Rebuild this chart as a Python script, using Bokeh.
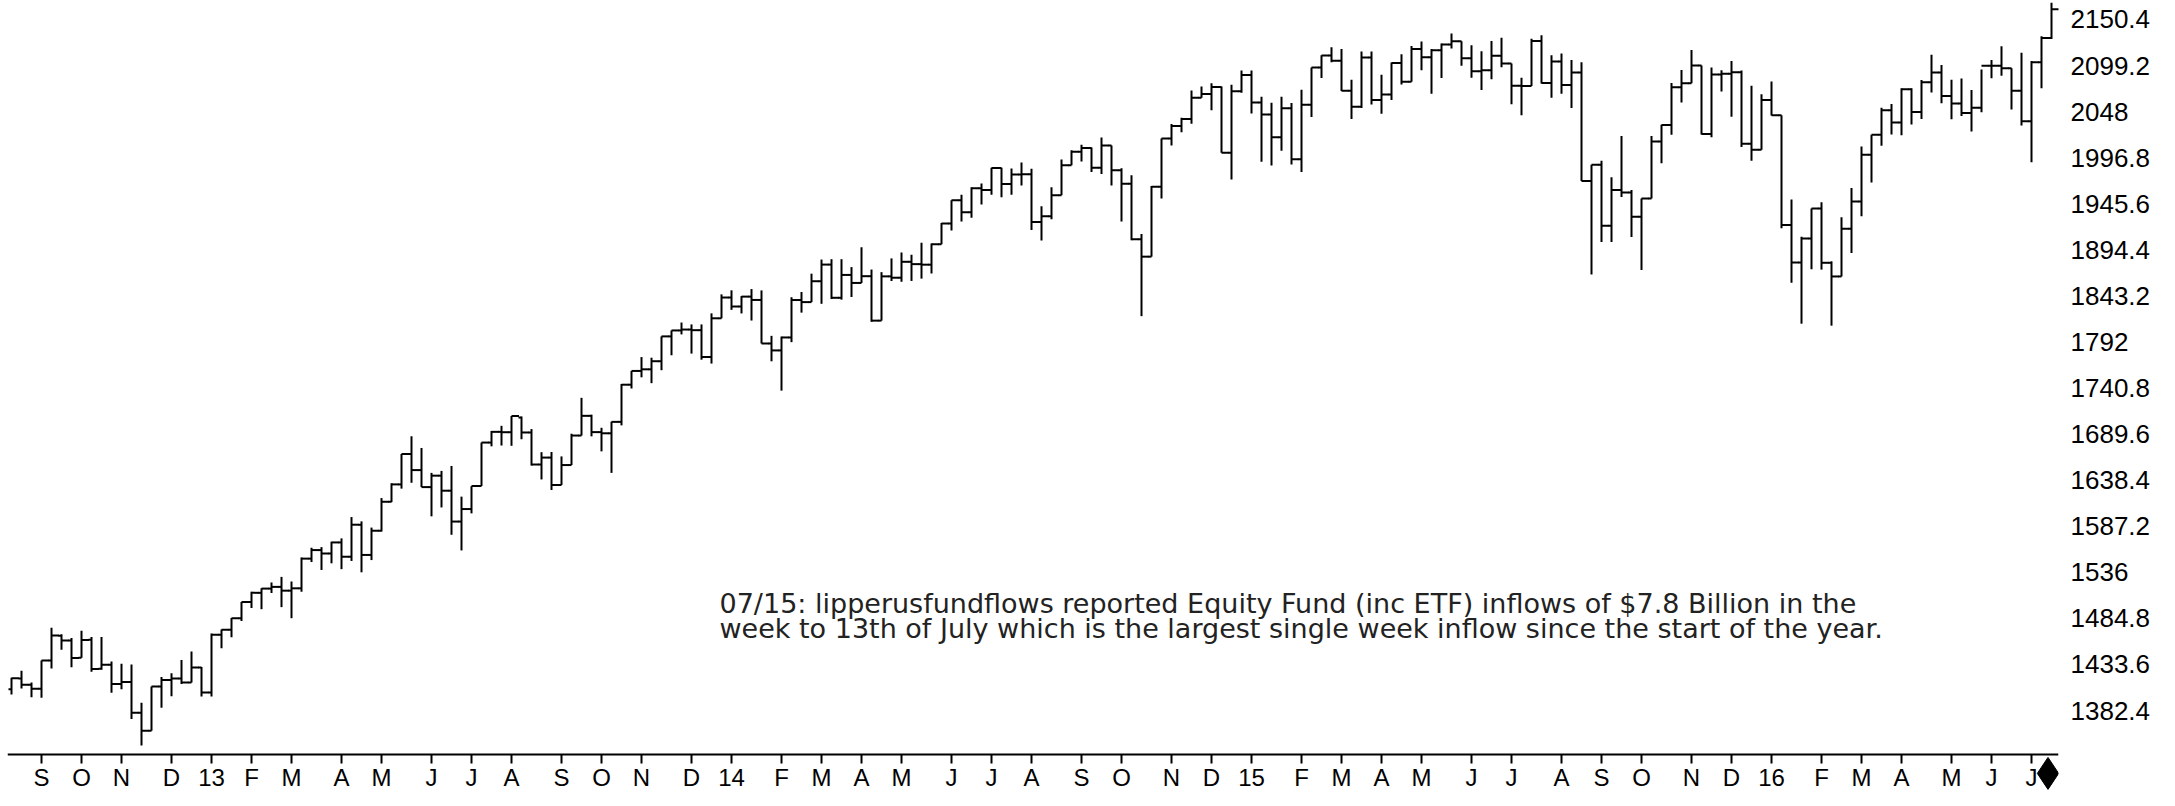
import numpy as np
import pandas as pd
from bokeh.plotting import figure
from bokeh.models import ColumnDataSource, Range1d, FixedTicker, Label
from bokeh.embed import file_html
from bokeh.resources import INLINE

# Weekly bars (week ending Friday), first week ends 2012-08-17
week_start = "2012-08-17"

opens = [
    1405.9, 1418.1, 1411.1, 1406.5, 1438.0, 1465.4, 1460.3, 1440.9, 1461.0, 1428.8,
    1433.2, 1411.9, 1414.0, 1380.0, 1359.9, 1409.2, 1416.3, 1418.1, 1413.5, 1430.2,
    1402.4, 1466.5, 1472.1, 1485.0, 1503.0, 1513.2, 1517.9, 1519.8, 1515.6, 1518.2,
    1551.2, 1560.7, 1556.9, 1569.2, 1553.3, 1588.8, 1555.3, 1582.2, 1614.4, 1633.7,
    1667.5, 1649.6, 1630.7, 1643.4, 1626.7, 1592.4, 1606.3, 1631.9, 1680.2, 1692.1,
    1691.7, 1708.0, 1691.4, 1655.8, 1663.5, 1633.0, 1655.2, 1688.0, 1709.9, 1691.8,
    1690.5, 1703.2, 1744.5, 1759.8, 1761.6, 1770.6, 1798.2, 1804.8, 1805.8, 1805.1,
    1775.3, 1818.3, 1841.4, 1831.4, 1842.4, 1838.7, 1790.3, 1782.6, 1797.0, 1838.6,
    1836.3, 1859.5, 1878.0, 1841.1, 1866.5, 1857.6, 1865.1, 1815.7, 1864.9, 1863.4,
    1881.1, 1878.5, 1877.9, 1900.5, 1923.6, 1949.4, 1936.2, 1962.9, 1961.0, 1985.4,
    1967.6, 1978.2, 1978.3, 1925.2, 1931.6, 1955.1, 1988.4, 2003.4, 2007.7, 1985.5,
    2010.4, 1982.9, 1967.9, 1906.1, 1886.8, 1964.6, 2018.1, 2031.9, 2039.8, 2063.5,
    2067.6, 2075.4, 2002.3, 2070.7, 2088.8, 2058.2, 2044.8, 2019.4, 2051.8, 1995.0,
    2055.5, 2097.0, 2110.3, 2104.5, 2071.3, 2053.4, 2108.1, 2061.0, 2067.0, 2102.1,
    2081.2, 2117.7, 2108.3, 2116.1, 2122.7, 2126.1, 2107.4, 2092.8, 2094.1, 2110.0,
    2101.5, 2076.8, 2076.6, 2126.6, 2079.7, 2103.8, 2077.6, 2091.5, 1970.9, 1988.9,
    1921.2, 1961.0, 1958.0, 1931.3, 1951.4, 2014.9, 2033.1, 2075.2, 2079.4, 2099.2,
    2023.0, 2089.2, 2090.1, 2091.7, 2012.4, 2005.6, 2061.0, 2043.9, 1922.0, 1880.3,
    1906.9, 1940.2, 1880.0, 1864.8, 1917.8, 1948.0, 2000.0, 2022.2, 2049.6, 2035.9,
    2072.8, 2047.6, 2080.7, 2091.6, 2065.3, 2057.1, 2046.6, 2052.3, 2099.1, 2099.1,
    2096.1, 2071.2, 2037.4, 2103.0, 2129.9,
]
highs = [
    1418.7, 1426.7, 1413.5, 1437.9, 1474.5, 1467.1, 1463.0, 1471.0, 1464.0, 1464.0,
    1437.0, 1434.3, 1433.4, 1391.0, 1409.2, 1419.7, 1423.7, 1438.6, 1448.0, 1430.7,
    1467.9, 1472.3, 1485.2, 1503.0, 1514.4, 1518.3, 1524.7, 1530.9, 1525.8, 1552.5,
    1563.3, 1564.0, 1570.0, 1573.7, 1597.4, 1592.6, 1585.7, 1618.5, 1635.0, 1667.5,
    1687.2, 1674.2, 1646.5, 1648.7, 1654.2, 1620.1, 1631.7, 1680.2, 1693.1, 1698.8,
    1709.7, 1709.2, 1695.2, 1669.5, 1669.7, 1664.8, 1690.0, 1729.9, 1711.2, 1696.6,
    1703.4, 1745.3, 1759.8, 1775.2, 1774.5, 1798.2, 1804.8, 1813.6, 1811.5, 1811.5,
    1823.8, 1844.9, 1849.4, 1843.0, 1850.8, 1849.3, 1798.8, 1798.0, 1841.7, 1847.5,
    1867.9, 1883.6, 1884.0, 1884.0, 1875.2, 1897.3, 1872.5, 1869.6, 1884.9, 1891.3,
    1888.8, 1902.2, 1901.3, 1924.2, 1949.4, 1955.6, 1963.9, 1968.2, 1985.6, 1985.6,
    1984.9, 1991.4, 1984.6, 1942.9, 1964.0, 1994.8, 2005.0, 2011.2, 2008.0, 2019.3,
    2010.4, 1985.2, 1977.4, 1912.1, 1965.3, 2018.2, 2034.3, 2041.3, 2071.5, 2075.8,
    2079.5, 2075.8, 2077.9, 2093.6, 2093.6, 2064.4, 2057.9, 2064.6, 2057.6, 2072.4,
    2097.0, 2110.6, 2119.6, 2117.5, 2083.5, 2114.9, 2114.9, 2089.0, 2102.6, 2111.9,
    2120.9, 2125.9, 2117.7, 2123.8, 2134.7, 2126.2, 2121.9, 2115.0, 2126.6, 2130.0,
    2101.5, 2085.7, 2129.0, 2132.8, 2110.6, 2112.7, 2105.4, 2102.9, 1989.0, 1993.5,
    1975.0, 2020.9, 1960.8, 1951.4, 2020.9, 2033.5, 2079.7, 2094.3, 2116.5, 2099.2,
    2097.1, 2094.1, 2104.3, 2093.8, 2076.7, 2067.4, 2081.6, 2043.9, 1950.3, 1908.9,
    1940.2, 1947.2, 1881.6, 1930.7, 1963.0, 2009.1, 2022.4, 2052.4, 2056.6, 2074.0,
    2074.0, 2083.1, 2111.1, 2099.9, 2083.4, 2084.9, 2071.9, 2094.7, 2105.3, 2120.6,
    2096.1, 2113.3, 2104.3, 2131.7, 2169.0,
]
lows = [
    1400.2, 1406.8, 1397.0, 1396.6, 1429.0, 1450.0, 1430.5, 1440.9, 1425.5, 1427.8,
    1402.0, 1405.9, 1373.0, 1343.4, 1359.9, 1385.4, 1398.2, 1411.9, 1413.5, 1398.1,
    1398.1, 1451.6, 1463.8, 1482.0, 1496.3, 1495.0, 1513.0, 1497.3, 1485.0, 1514.4,
    1547.4, 1538.6, 1546.0, 1539.5, 1548.6, 1536.0, 1549.6, 1581.3, 1614.0, 1629.0,
    1635.5, 1630.7, 1598.2, 1608.1, 1577.7, 1560.3, 1601.5, 1631.9, 1676.0, 1676.9,
    1676.6, 1683.9, 1654.6, 1639.2, 1627.5, 1633.0, 1655.2, 1688.0, 1687.1, 1670.4,
    1646.5, 1699.3, 1740.3, 1752.7, 1746.2, 1760.6, 1777.2, 1800.4, 1779.1, 1772.3,
    1768.0, 1818.3, 1827.7, 1823.7, 1815.8, 1790.3, 1770.5, 1737.9, 1791.8, 1824.6,
    1836.3, 1834.4, 1839.7, 1839.0, 1842.0, 1857.6, 1814.4, 1815.7, 1859.7, 1858.9,
    1859.8, 1862.4, 1868.1, 1900.5, 1916.0, 1925.8, 1930.0, 1944.7, 1955.6, 1952.9,
    1955.6, 1965.8, 1916.4, 1904.8, 1928.3, 1955.1, 1988.4, 1992.6, 1980.9, 1978.6,
    1966.0, 1926.0, 1905.0, 1820.7, 1886.8, 1951.4, 2010.3, 2025.1, 2034.5, 2063.5,
    2049.6, 2002.3, 1972.6, 2069.0, 2046.0, 1992.4, 1988.1, 2004.5, 1989.2, 1980.9,
    2041.9, 2085.4, 2103.0, 2071.0, 2039.7, 2052.0, 2056.0, 2045.5, 2061.0, 2078.2,
    2081.2, 2094.0, 2067.9, 2085.5, 2118.2, 2099.0, 2085.7, 2072.1, 2084.0, 2097.4,
    2056.3, 2044.0, 2076.6, 2079.3, 2063.5, 2067.9, 2052.1, 1970.9, 1867.0, 1903.0,
    1903.0, 1953.0, 1908.7, 1872.0, 1951.4, 1990.7, 2022.2, 2058.0, 2079.4, 2022.7,
    2019.4, 2070.3, 2042.4, 2008.7, 1993.3, 2005.6, 2043.6, 1918.5, 1857.8, 1812.3,
    1872.8, 1872.4, 1810.1, 1864.8, 1891.0, 1931.8, 1969.2, 2010.0, 2022.5, 2021.7,
    2033.8, 2039.7, 2069.3, 2057.4, 2039.5, 2043.0, 2025.9, 2047.3, 2085.0, 2088.0,
    2050.4, 2032.6, 1991.7, 2074.0, 2128.8,
]
closes = [
    1418.2, 1411.1, 1406.6, 1437.9, 1465.8, 1460.2, 1440.7, 1460.9, 1428.6, 1433.2,
    1411.9, 1414.2, 1379.9, 1359.9, 1409.2, 1416.2, 1418.1, 1413.6, 1430.2, 1402.4,
    1466.5, 1472.1, 1485.0, 1503.0, 1513.2, 1517.9, 1519.8, 1515.6, 1518.2, 1551.2,
    1560.7, 1556.9, 1569.2, 1553.3, 1588.9, 1555.3, 1582.2, 1614.4, 1633.7, 1667.5,
    1649.6, 1630.7, 1643.4, 1626.7, 1592.4, 1606.3, 1631.9, 1680.2, 1692.1, 1691.7,
    1709.7, 1691.4, 1655.8, 1663.5, 1633.0, 1655.2, 1688.0, 1709.9, 1691.8, 1690.5,
    1703.2, 1744.5, 1759.8, 1761.6, 1770.6, 1798.2, 1804.8, 1805.8, 1805.1, 1775.3,
    1818.3, 1841.4, 1831.4, 1842.4, 1838.7, 1790.3, 1782.6, 1797.0, 1838.6, 1836.3,
    1859.5, 1878.0, 1841.1, 1866.5, 1857.6, 1865.1, 1815.7, 1864.9, 1863.4, 1881.1,
    1878.5, 1877.9, 1900.5, 1923.6, 1949.4, 1936.2, 1962.9, 1961.0, 1985.4, 1967.6,
    1978.2, 1978.3, 1925.2, 1931.6, 1955.1, 1988.4, 2003.4, 2007.7, 1985.5, 2010.4,
    1982.9, 1967.9, 1906.1, 1886.8, 1964.6, 2018.1, 2031.9, 2039.8, 2063.5, 2067.6,
    2075.4, 2002.3, 2070.7, 2088.8, 2058.2, 2044.8, 2019.4, 2051.8, 1995.0, 2055.5,
    2097.0, 2110.3, 2104.5, 2071.3, 2053.4, 2108.1, 2061.0, 2067.0, 2102.1, 2081.2,
    2117.7, 2108.3, 2116.1, 2122.7, 2126.1, 2107.4, 2092.8, 2094.1, 2110.0, 2101.5,
    2076.8, 2076.6, 2126.6, 2079.7, 2103.8, 2077.6, 2091.5, 1970.9, 1988.9, 1921.2,
    1961.0, 1958.0, 1931.3, 1951.4, 2014.9, 2033.1, 2075.2, 2079.4, 2099.2, 2023.0,
    2089.2, 2090.1, 2091.7, 2012.4, 2005.6, 2061.0, 2043.9, 1922.0, 1880.3, 1906.9,
    1940.2, 1880.0, 1864.8, 1917.8, 1948.0, 2000.0, 2022.2, 2049.6, 2035.9, 2072.8,
    2047.6, 2080.7, 2091.6, 2065.3, 2057.1, 2046.6, 2052.3, 2099.1, 2099.1, 2096.1,
    2071.2, 2037.4, 2103.0, 2129.9, 2161.7,
]

month_initials = ["J", "F", "M", "A", "M", "J", "J", "A", "S", "O", "N", "D"]
y_tick_labels = ["1382.4", "1433.6", "1484.8", "1536", "1587.2", "1638.4", "1689.6",
                 "1740.8", "1792", "1843.2", "1894.4", "1945.6", "1996.8", "2048",
                 "2099.2", "2150.4"]
note_lines = [
    "07/15: lipperusfundflows reported Equity Fund (inc ETF) inflows of $7.8 Billion in the",
    "week to 13th of July which is the largest single week inflow since the start of the year.",
]

# ---------------------------------------------------------------
dates = pd.date_range(week_start, periods=len(closes), freq="W-FRI")
x = np.arange(len(dates))
src = ColumnDataSource(dict(
    x=x, xo=x - 0.3, xc=x + 0.75,
    open=opens, high=highs, low=lows, close=closes,
))

tick_idx, tick_lab = [], []
for i in range(1, len(dates)):
    if dates[i].month != dates[i - 1].month:
        tick_idx.append(int(i))
        m = dates[i].month
        tick_lab.append(f"{dates[i].year % 100:02d}" if m == 1 else month_initials[m - 1])

AXIS_Y = 1333.5          # value at which the time axis line is drawn
Y_LO, Y_HI = 1293.5, 2171.5

p = figure(
    frame_width=2051, frame_height=790,
    x_range=Range1d(-0.4, len(x) - 0.3),
    y_range=Range1d(Y_LO, Y_HI),
    y_axis_location="right",
    output_backend="svg", toolbar_location=None,
    min_border_left=7, min_border_right=101, min_border_top=0, min_border_bottom=0,
    background_fill_color="white", border_fill_color="white",
)
p.grid.visible = False
p.outline_line_color = None

bar_kw = dict(source=src, line_color="black", line_width=2)
p.segment(x0="x", y0="low", x1="x", y1="high", **bar_kw)
p.segment(x0="xo", y0="open", x1="x", y1="open", **bar_kw)
p.segment(x0="x", y0="close", x1="xc", y1="close", **bar_kw)

# x axis (months), drawn at a fixed level inside the frame
xa = p.xaxis[0]
xa.fixed_location = AXIS_Y
xa.ticker = FixedTicker(ticks=tick_idx)
xa.major_label_overrides = {i: s for i, s in zip(tick_idx, tick_lab)}
xa.axis_line_color = "black"
xa.axis_line_width = 2
xa.major_tick_line_color = "black"
xa.major_tick_line_width = 2
xa.major_tick_out = 9
xa.major_tick_in = 0
xa.minor_tick_line_color = None
xa.major_label_standoff = 0
xa.major_label_text_font = "Liberation Sans Narrow, Liberation Sans"
xa.major_label_text_font_size = "24px"
xa.major_label_text_color = "black"

# end-of-data diamond on the time axis at the last bar
end_src = ColumnDataSource(dict(x=[float(x[-1]) - 0.35], y=[AXIS_Y - 21.0]))
p.scatter(x="x", y="y", source=end_src, marker="diamond", size=32,
          fill_color="black", line_color="black")

# y axis (right)
ya = p.yaxis[0]
y_ticks = [float(s) for s in y_tick_labels]
ya.ticker = FixedTicker(ticks=y_ticks)
ya.major_label_overrides = {v: s for v, s in zip(y_ticks, y_tick_labels)}
ya.axis_line_color = None
ya.major_tick_line_color = None
ya.minor_tick_line_color = None
ya.major_tick_out = 0
ya.major_tick_in = 0
ya.major_label_standoff = 12
ya.major_label_text_font = "Liberation Sans"
ya.major_label_text_font_size = "26px"
ya.major_label_text_color = "black"

# annotation text
for line, yv in zip(note_lines, [1501.3, 1473.5]):
    p.add_layout(Label(x=70.8, y=yv, text=line, text_font="DejaVu Sans",
                       text_font_size="27px", text_color="#222222",
                       text_align="left", text_baseline="alphabetic"))

open("out.html", "w").write(file_html(p, INLINE))
